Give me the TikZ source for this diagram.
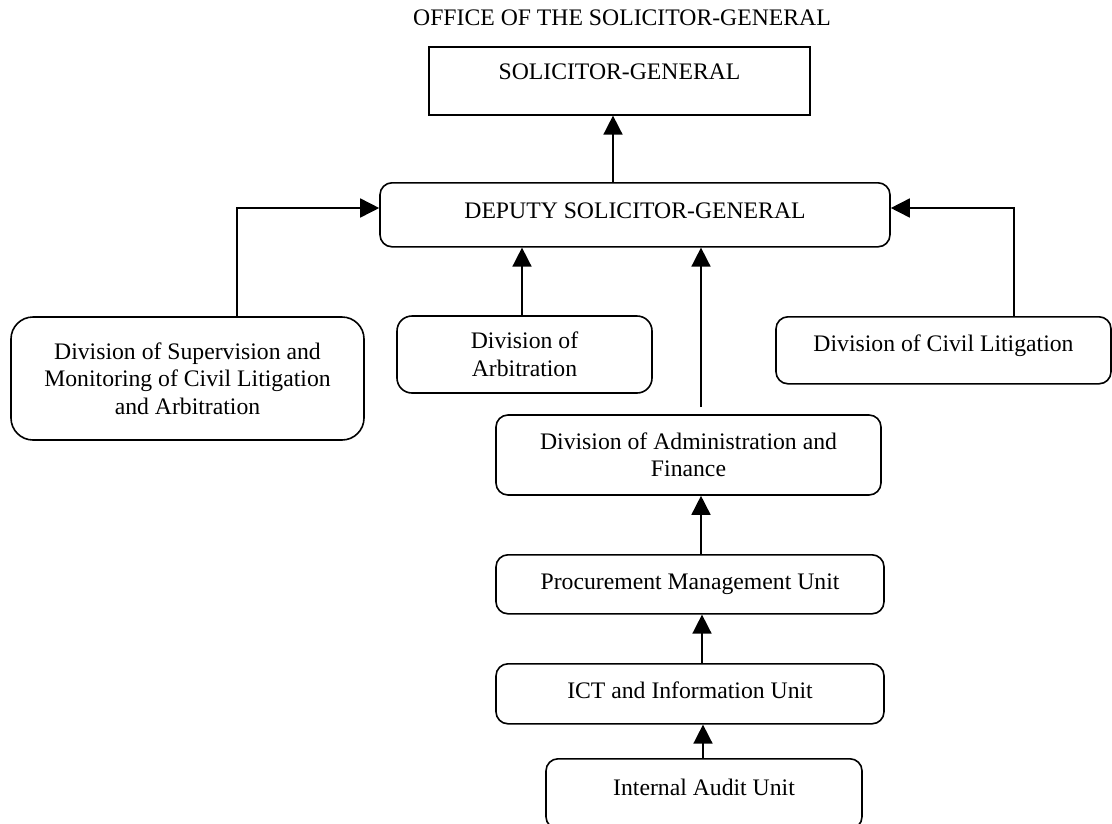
\documentclass[tikz,border=0pt]{standalone}
\usepackage{fontspec}
\setmainfont{Liberation Serif}
\usetikzlibrary{arrows.meta}
\begin{document}
\begin{tikzpicture}[x=1pt,y=-1pt, line width=1.6pt,
  every node/.style={font=\fontsize{23.7}{27.5}\selectfont},
  sbox/.style={draw, rounded corners=12pt, inner sep=0pt},
  mbox/.style={draw, rounded corners=12pt, inner sep=0pt, align=center},
  arr/.style={-{Triangle[length=19pt,width=19pt]}}]
\useasboundingbox (0,0) rectangle (1112,823);
\fill[white] (0,0) rectangle (1112,823);
\clip (0,0) rectangle (1112,823);

\node[anchor=base, inner sep=0pt] (title) at (622,25) {OFFICE OF THE SOLICITOR-GENERAL};
\node[sbox, sharp corners, anchor=north, minimum width=381pt, text height=33pt, text depth=35pt] (sg) at (619.5,46) {SOLICITOR-GENERAL};
\node[sbox, anchor=north, minimum width=510pt, text height=36pt, text depth=28pt] (dsg) at (635,182) {DEPUTY SOLICITOR-GENERAL};
\node[mbox, rounded corners=22pt, minimum width=353pt, minimum height=123pt] (sup) at (187.5,378.5) {Division of Supervision and\\Monitoring of Civil Litigation\\and Arbitration};
\node[mbox, rounded corners=15pt, minimum width=255pt, minimum height=77pt] (arb) at (524.5,354.5) {Division of\\Arbitration};
\node[sbox, anchor=north, minimum width=335pt, text height=35pt, text depth=32pt] (civ) at (943.5,316) {Division of Civil Litigation};
\node[mbox, minimum width=385pt, minimum height=80pt] (adm) at (688.5,455) {Division of Administration and\\Finance};
\node[sbox, anchor=north, minimum width=388pt, text height=35pt, text depth=24pt] (proc) at (690,554) {Procurement Management Unit};
\node[sbox, anchor=north, minimum width=388pt, text height=35pt, text depth=25pt] (ict) at (690,663) {ICT and Information Unit};
\node[sbox, anchor=north, minimum width=316pt, text height=37pt, text depth=33pt] (aud) at (704,758) {Internal Audit Unit};

\coordinate (xsg) at (613,0);
\coordinate (xl) at (237,0);
\coordinate (yl) at (0,208);
\coordinate (xr) at (1014,0);
\coordinate (xa) at (522,0);
\coordinate (xm) at (701,0);
\coordinate (xm2) at (702,0);
\coordinate (xm3) at (703,0);

\draw[arr] (dsg.north -| xsg) -- (sg.south -| xsg);
\draw[arr] (sup.north -| xl) |- (dsg.west |- yl);
\draw[arr] (arb.north -| xa) -- (dsg.south -| xa);
\draw[arr] (civ.north -| xr) |- (dsg.east |- yl);
\draw[arr, shorten <=7pt] (adm.north -| xm) -- (dsg.south -| xm);
\draw[arr] (proc.north -| xm) -- (adm.south -| xm);
\draw[arr] (ict.north -| xm2) -- (proc.south -| xm2);
\draw[arr] (aud.north -| xm3) -- (ict.south -| xm3);
\end{tikzpicture}
\end{document}
